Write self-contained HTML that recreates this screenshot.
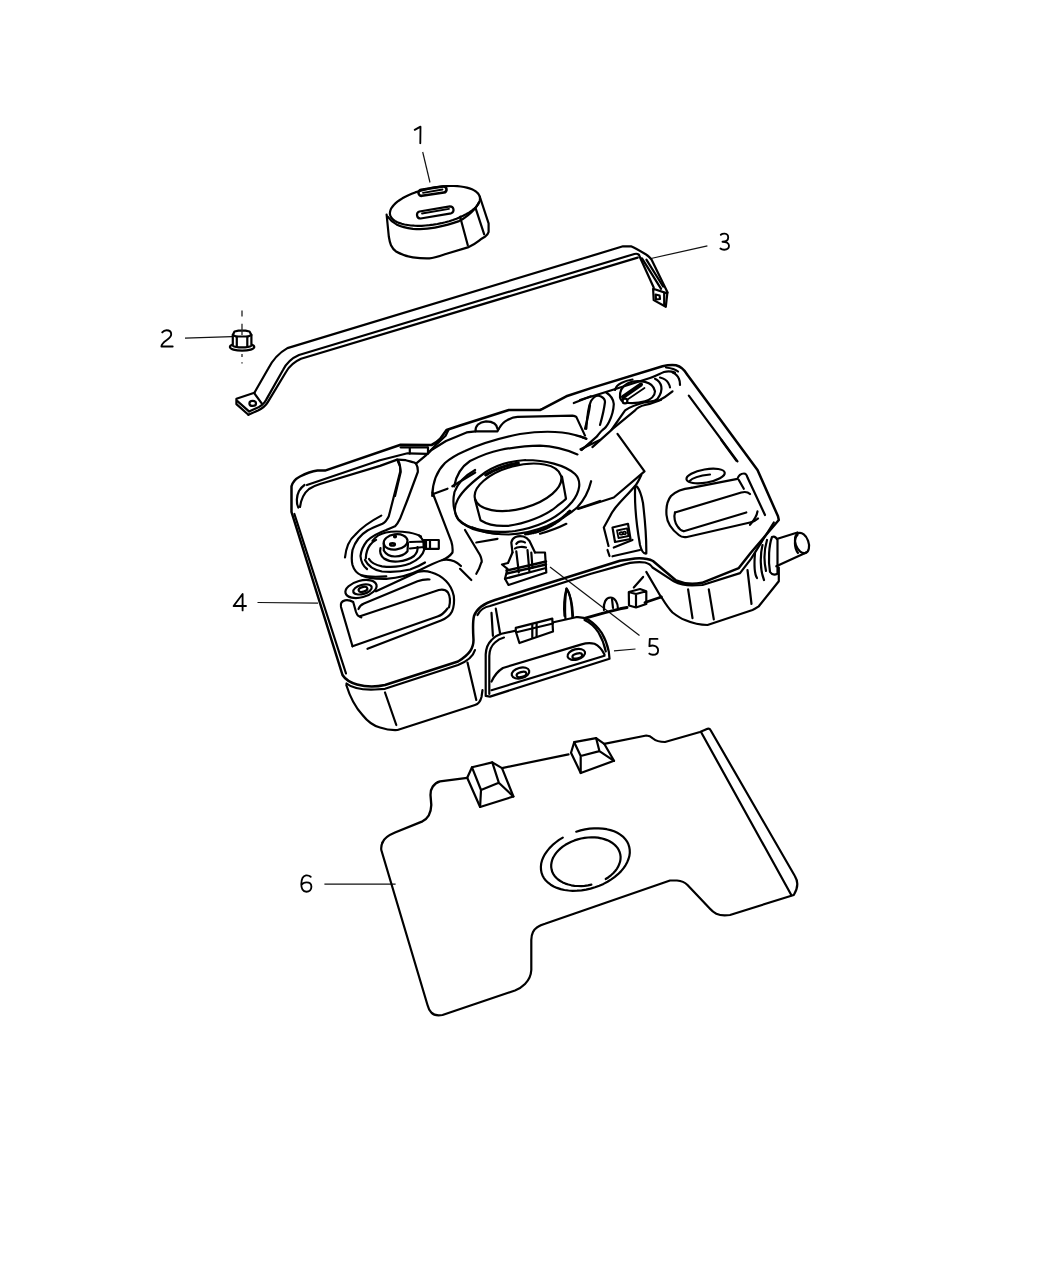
<!DOCTYPE html>
<html><head><meta charset="utf-8"><title>Fuel Tank Diagram</title>
<style>
html,body{margin:0;padding:0;background:#fff;}
body{width:1048px;height:1275px;overflow:hidden;}
svg{display:block;}
.t{font-family:"Liberation Sans",sans-serif;font-size:25px;fill:#111;}
.s{fill:none;stroke:#000;stroke-width:2.2;stroke-linecap:round;stroke-linejoin:round;}
.w{fill:#fff;stroke:#000;stroke-width:2.2;stroke-linecap:round;stroke-linejoin:round;}
.l{fill:none;stroke:#111;stroke-width:1.2;stroke-linecap:butt;}
.th{fill:none;stroke:#000;stroke-width:1.8;stroke-linecap:round;stroke-linejoin:round;}
</style></head>
<body>
<svg width="1048" height="1275" viewBox="0 0 1048 1275">
<!-- LABELS -->
<g id="labels" fill="none" stroke="#000" stroke-width="1.85" stroke-linecap="round" stroke-linejoin="round">
<path d="M414.7,129.9 L420.5,126.6 L420.3,143.2"/>
<path d="M162.2,332.4 C163.5,330.8 165,330.2 166.5,330.2 C169.5,330.2 171.2,332 171.2,334.2 C171.2,336.5 169.5,338.2 166.5,340.2 C163.5,342.3 161.5,344 161.4,346.5 L172.7,346.5"/>
<path d="M720.8,234.8 C722,233.7 723.5,233.5 724.8,233.6 C727,233.8 728.2,235.5 728.2,237.5 C728.2,240 726,241.6 722.5,241.7 C726.5,241.7 729,243.5 729,245.8 C729,248.3 727,249.7 724.2,249.7 C722.5,249.7 721.2,249.2 720.4,248.5"/>
<path d="M242.6,610.4 L242.6,594 L233.6,606 L246,606"/>
<path d="M657.5,638.9 L649.8,638.9 L649.4,646.2 C651,645.5 653,645.3 654.5,645.8 C657,646.6 658.1,648.5 658.1,650.4 C658.1,652.9 656,654.7 652.8,654.7 C651.2,654.7 650,654.3 649.3,653.6"/>
<path d="M310.7,876.8 C309.2,875.5 307.5,875.2 306,875.4 C302.8,876 301.4,879.5 301.3,884 C301.2,888.5 302.8,891.7 306.4,891.7 C309.5,891.7 311.4,889.5 311.4,886.8 C311.4,884 309.5,882.4 306.6,882.4 C304.4,882.4 302.6,883.3 301.6,884.8"/>
</g>
<!-- LEADERS -->
<g id="leaders">
<path class="l" d="M422.7,152 L430,182.5"/>
<path class="l" d="M185,338.1 L232,336.6"/>
<path class="l" d="M651,258.5 L707.4,245.8"/>
<path class="l" d="M257.5,602.5 L318,603.1"/>
<path class="l" d="M614,650.9 L635.5,649"/>
<path class="l" d="M550,566.9 L639.5,635.6"/>
<path class="l" d="M324.4,884.1 L395.6,884.1"/>
</g>
<!-- PART 1 CAP -->
<g id="cap">
<path class="s" d="M386.6,214.5 L388.8,236.5 C389.5,241 390,243 391,245.2 C392.5,248.5 394,250 396.5,251.8 C402,255 407,256.5 412.9,257.3 C418,258.1 424,258.6 429.4,258.4 C435,258 440,256 445.8,254 L467.8,247.4 C472,245.5 475.5,243.5 478.8,240.8 C481,239 483,237.8 485.3,236.5 C487,235 488.3,233.5 488.6,232.1 L488.6,223.3 L479.9,197"/>
<path class="s" d="M479.9,197.2 L480.0,198.8 L479.8,200.5 L479.2,202.2 L478.3,204.0 L477.1,205.7 L475.5,207.5 L473.6,209.2 L471.4,211.0 L468.9,212.6 L466.1,214.3 L463.1,215.8 L459.9,217.3 L456.5,218.7 L452.9,220.0 L449.2,221.2 L445.3,222.3 L441.4,223.2 L437.4,224.0 L433.4,224.7 L429.5,225.2 L425.5,225.5 L421.7,225.8 L417.9,225.8 L414.3,225.7 L410.8,225.5 L407.6,225.0 L404.5,224.5 L401.7,223.8 L399.1,222.9 L396.9,222.0 L394.9,220.9 L393.2,219.6 L391.9,218.3 L390.9,216.9 L390.2,215.4 L389.9,213.8 L390.0,212.1 L390.4,210.4 L391.1,208.7 L392.2,207.0 L393.6,205.2 L395.4,203.4 L397.4,201.7 L399.8,200.0 L402.4,198.3 L405.3,196.7 L408.4,195.2 L411.7,193.8 L415.2,192.4 L418.9,191.2 L422.7,190.1 L426.6,189.1 L430.5,188.2 L434.5,187.4 L438.5,186.9 L442.4,186.4 L446.3,186.1 L450.1,186.0 L453.8,186.0 L457.4,186.2 L460.7,186.5 L463.9,187.0 L466.8,187.6 L469.5,188.4 L472.0,189.3 L474.1,190.4 L475.9,191.5 L477.4,192.8 L478.6,194.2 L479.4,195.7 L479.9,197.2 Z"/>
<path class="s" d="M387.7,216.7 C390,220 393,222.5 396.5,224.4 C401,226.5 407,228 412.9,228.8 C420,229.5 428,229 434.9,227.7 C443,226 451,224 459,221.1 C465,218 471,213 475.5,207.9 C477,206 478,204 478.8,202.4"/>
<path class="s" d="M460.1,216.7 L467.8,245.2 M475.5,207.9 L484.2,234.3"/>
<path class="s" d="M421.9,195.8 L443.9,192.5 A3.0,3.0 0 0 0 443.1,186.5 L421.1,189.8 A3.0,3.0 0 0 0 421.9,195.8 Z" style="stroke-width:2.6"/>
<path class="s" d="M420.6,218.5 L451.1,213.3 A3.6,3.6 0 0 0 449.9,206.3 L419.4,211.5 A3.6,3.6 0 0 0 420.6,218.5 Z"/>
<path class="th" d="M422,213.5 L449,208.8"/>
<path class="th" d="M423,192.8 L442.5,189.5"/>
</g>
<!-- PART 2 NUT -->
<g id="nut">
<path d="M242,310.4 L242,316.4 M242,353.9 L242,356.9 M242,362.2 L242,363.4" fill="none" stroke="#222" stroke-width="1.3"/>
<ellipse class="s" cx="242.1" cy="347" rx="12.2" ry="3.7"/>
<path class="w" d="M232.8,335 L232.8,345.6 C236,348 248,348 251.4,345.6 L251.4,335 L249.5,331.5 L245.5,330.6 L238.5,330.6 L234.5,331.5 Z"/>
<path class="s" d="M232.8,335 L236,336.5 L248,336.5 L251.4,335"/>
<path class="s" d="M236.8,336.5 L236.8,346.8 M247.3,336.5 L247.3,346.8"/>
<path d="M242,323.8 L242,335" fill="none" stroke="#222" stroke-width="1.3"/>
</g>
<!-- PART 3 STRAP -->
<g id="strap">
<path class="s" d="M254.4,392.7 L268,369 C272,361 277,354 287.4,348.1 L623,246.3 L631,246.3 C636,248.5 641,251.5 646.4,254.7 C648.5,256 650,257.5 651.5,259.5 L667.6,292.6"/>
<path class="s" d="M249,411.4 L255.1,408.7 C261,406.5 264.5,403 266.4,399.4 L283,370 C287,362 292,358 299,355 L634.4,254 C636,253.6 637.5,253.7 638.4,254.4 C639,255 639.5,255.8 639.7,256.7 L653.7,287.5"/>
<path class="s" d="M248.4,414.8 L258,410.5 C263,408 265.5,406 267.8,402.1 L286,372 C290,365 295,361.5 301,358.8 L637.7,257.6"/>
<path class="s" d="M642,258.3 L661.1,288.8 M646.4,259.6 L663.1,286.5"/>
<path class="s" d="M254.4,392.7 L236.4,398.7 L236.4,404.1 L248.4,414.8"/>
<path class="s" d="M237.4,401.2 L249,411.4 M254.4,393.4 L261.7,403.4"/>
<ellipse class="s" cx="252.7" cy="403.4" rx="3.3" ry="2.5"/>
<path class="s" d="M653.1,288.8 L653.7,300.1 L665.8,306.8 L667.3,293.4 Z"/>
<path class="s" d="M664.2,293.6 L664.2,304.3"/>
<path class="s" d="M655.6,294.5 L659.6,295.5 L660,299 L656,299.5 Z"/>
</g>
<!-- TANK -->
<g id="tank">
<!-- outer silhouette / rim top line -->
<path class="s" style="stroke-width:2.5" d="M342.5,675 L291.5,512 L291.5,486.3 C293,481 296,478.5 300,476.5 C305,474 311,471.5 317.5,470.6 L325,470.6 L400.6,444.7 L431.5,445 C435,443.5 438,441 440,439 L446.5,430 L460,425.5 L508.8,410 L540,410 L542.5,408.8 L566.3,396.3 L591,388.1 L662.5,366.3 C668,365 672,364.8 676,365.3 C680,366.3 684,369 687.5,375 L757.5,470 L778,516.3 L778.8,520 L751,552.5 L738.8,568.1 L702,582.8 C694,584.5 684,584 676,580.5 L653,561 C648,558.5 642,558 635,558.5 L620,560.8 L495,600 C485,603 477,608 474,616 C472.5,622 473,632 473.5,640 C473.5,648 470,654 458,661.5 L385,685 C376,687 366,687 357,684.5 C350,682.5 345,679 342.5,675 Z"/>
<!-- left double line -->
<path class="s" d="M294.4,514 L346,673.5"/>
<!-- second rim line -->
<path class="s" d="M477.5,615 C480,610 484,607 490,606 L591,573.8 L620,565.6 C628,563 637,561.5 645,562.5 C649,563.5 651,565 652.5,567.5 L673.8,581.3 C680,584.5 686,585.5 692,585.5 L702.5,585 L740,573.1 L751,558.8 L773.8,522.5"/>
<path class="s" d="M346.5,683.5 C352,688 362,690 375,689.5 L385,688.8 L458,665 C468,661 473,657 475,650"/>
<!-- lower body left -->
<path class="s" d="M346.3,685 C350,697 356,708 362.5,715 C368,722 374,726 380,727.5 C386,729.5 392,730.3 397.5,730 L475,705 C478.5,704 480.5,701 481.5,697 L482.5,690"/>
<path class="s" d="M385,692.5 L396.3,725 M467.5,662.5 L476.3,700"/>
<!-- lower body right -->
<path class="s" style="stroke-width:2.9" d="M580,619.6 L605,612.6 L620,608.8 L627,607.5 M645,602.5 L661.3,597"/>
<path class="s" d="M661.3,597 C665,603 668,608 672.5,612.5 C677,616 681,618.5 685,620 C692,623 700,625 707.5,625 L718.8,621.3 L752.5,610 C755,609 757,607.5 758.8,606.3 L778.8,581.3 L778.8,567.5"/>
<path class="s" d="M646.3,571.9 L661.3,597.5"/>
<path class="s" d="M688.1,589.4 L692.5,618.1 M708.8,589.4 L713.8,619.4 M747.5,570 L751.5,604"/>
<!-- right inner edge -->
<path class="s" d="M688.8,395.6 L737.5,461.3"/>
<!-- nozzle -->
<path class="s" d="M777.5,538.8 L797.5,532.5 M776.3,566.3 L806.3,552.5"/>
<ellipse class="s" cx="802" cy="543" rx="6.5" ry="10.5" transform="rotate(-20 802 543)"/>
<path class="s" d="M797.5,535 C794,538 794,548 798,553"/>
<path class="s" d="M772,537 C769,545 768,560 770,572 C772,575 775,575 777.5,573.8 L777.5,540 C776,537 774,536 772,537 Z"/>
<path class="s" d="M767,540 C764,550 764,562 766,571 M762.5,545 C760,555 760,570 764,580"/>
<path class="s" d="M755,553 C754,565 755,575 757,578"/>
<!-- right pocket -->
<ellipse class="s" cx="705.6" cy="476" rx="19.4" ry="6.6" transform="rotate(-10 705.6 476)"/>
<path class="s" d="M689,481.5 C692,478 700,475.5 710,474.5"/>
<path class="s" d="M691.3,487.8 C684,488.5 676,491 671,496 C667,501 666,508 666.5,515 C667,522 671,529 678.8,535 C681,537 684,537.5 687,537 L750,522.5 C753,521.8 756,520.5 758,518.5"/>
<path class="s" d="M691.3,487.8 L737.5,478.8 C738.5,475.5 741,473.5 744,473.5 C746,473.5 747,475.5 747.5,477.5 L765,515"/>
<path class="s" d="M738.8,480 L743.8,488.8"/>
<path class="s" d="M675,512.5 L741.3,492.5 C745,491.5 748,492 750,494"/>
<path class="s" d="M675,512.5 C673.5,517 675,523 677.5,526.3 C679,529 681,530.5 683.8,531.3 L746.3,512.5"/>
<path class="s" d="M757.5,511.3 C757,515 755.5,518.5 750,524.8"/>
<path class="s" d="M721.3,440 L736.3,460.6"/>
<!-- filler area -->
<path class="s" d="M580,400 C600,394 625,386 650,378 C656,376 660,373.5 664,372 C668,371 672,371.5 675,372.5"/>
<path class="s" d="M666,367.5 C670,368 675,369 678,371.5"/>
<path class="s" d="M620,397.5 C619.5,392 622,386.5 627.5,383.5 C632,381.2 639,380.8 645,381.9 C650,383 654,386.5 655,391.3 C655,395.5 651,399.5 645,401.3 C639,403 631,403.5 625,402.5 C622.5,401.5 620.5,399.8 620,397.5 Z"/>
<path class="s" d="M615,390 C616,386 618,384.5 621.3,383 C625,381 629,380 632.5,379.5"/>
<path class="s" d="M655,378.8 C658.5,380.5 660.5,383 661.3,386.5 C662,390 661,394 657.5,398.8 C656,400 654.5,401 652.5,401.3"/>
<path class="s" d="M660,377.5 C664,378.5 666.5,380 668,382.5 C669.5,385 670,386.5 670,387.5"/>
<path class="s" d="M672.5,372.5 C676,374 678,376 679,379 C680,381 680,383 680,385"/>
<path class="s" d="M672.5,391.3 C668,395 664,398 658,401 C653,403 649,404.3 645,405 C640,406 637,408 635.1,410.4 L611.7,429.7"/>
<path class="s" d="M661,400 C656,401 650,401.5 645,402.3 C636,404.5 630,407 625.1,410.4 L611.1,430.4 L592.4,447.1"/>
<path class="th" d="M623,397 L641,384.5" style="stroke-width:4"/>
<path class="th" d="M627.5,399.5 L644.5,388"/>
<circle class="s" cx="625" cy="401" r="2.4" style="fill:#fff"/>
<path class="s" d="M586.3,428.8 C587,418 588.5,406 591,401 C594,396 598,395 601,396.5 C604,398 605,400 605,402 C604,410 602,418 600,425"/>
<path class="s" d="M606.3,392.5 C610,395 613.5,399 613.8,404 C613.5,412 611,418 609,422 C607,426 605,428.5 602.5,430 C600,432 598.5,434.5 597,436.4 L581.7,449.8"/>
<path class="s" d="M580,436.3 L586.3,438.8"/>
<!-- center block -->
<path class="s" d="M617.5,433.8 L644.5,471.3 L613.8,497.5 L578.8,508.8"/>
<path class="s" d="M641.3,475 C639,480 637,484 635,486 C630,492 624,498 618.8,503.8 C615,508 612,512 610,516.3 L603.8,527.5 L608.5,546"/>
<path class="s" d="M607.5,550 L609.5,556"/>
<path class="s" d="M635.2,486.5 C634.5,500 636.5,525 640,545 C641.5,551 644,554 646.3,553.5 C646.5,540 645,520 643,503 C641.5,495 639,489 637,486.5 Z"/>
<path class="s" d="M612.5,527.5 L628,523.8 L630.5,539 L615,542 Z"/>
<path class="th" d="M617,530.5 L627,528.3 L628.5,536 L618.5,538 Z"/>
<path class="th" d="M619.5,533.5 C619.5,531.8 622.5,531.5 622.8,533.3 C623,535 620,535.3 619.5,533.5 Z M622.8,533 C622.8,531.3 625.8,531 626,532.8 C626.2,534.5 623.2,534.8 622.8,533 Z"/>
<path class="s" d="M613.8,547.5 L632.5,540 M612.5,556.3 L640,550"/>
<!-- small cube and pill near bottom rim -->
<path class="s" d="M628.8,592 L640,589 L646.3,591.3 L646.3,604 L636,607.5 L629,605.5 Z M628.8,592 L636,594 L646.3,591.3 M636,594 L636,607.5"/>
<path class="s" d="M633.8,587.5 L643.1,576.9"/>
<path class="s" d="M604,610 C603,603 606,597.5 610.5,597.5 C615,597.5 618,603 618,609"/>
<path class="s" d="M612,599 L613,608"/>
<path class="s" d="M565.5,620 C564.5,607 565.5,595 566.5,588.5 C569.5,592 572,603 572.5,620"/>
<!-- left rim inner lines -->
<path class="s" d="M306.9,485 L380,460.2 L407.5,453.3 L427.5,453.9"/>
<path class="s" d="M298.3,507.5 C296,503 296.5,496 299,491 C301,488 303,486 304.5,485"/>
<path class="s" d="M300,507 C301,500 304,493 309,489 C312,487 315,485.5 320,484 L380,465.9 L397.2,459.6 C399.5,462 400.5,466 400.3,471.3 L388.8,516.3 C387,520 385,522.5 382.5,523.8 C377,526 372,528 367.5,530.5 C360,535 355,542 352.5,550 C351.5,556 351.5,561 352.5,565 C354,570 357,573.5 361.3,575.3 C368,577 377,577 386.3,576.3"/>
<path class="s" d="M400.6,447.3 L427.5,447.3 M409.8,447.3 L409.8,453.6 M428,447.3 L428,452.5"/>
<path class="s" d="M397.2,459.6 C400,459.5 403,459.8 405.8,460.2 C409,461 412,462 414.3,462.5 L416,463.6 C417.5,466 418,469 417.8,472 L407.4,500 L400,518.8 C398,523 396.5,525 395,526.3 C391,528 388,529 386.3,530 C378,533 371,537 367,541 C363,546 361,551 360.5,556 C361,562 363,566 367,569"/>
<path class="s" d="M397.9,461.5 C400,465 400.7,468 400.7,472 L395,496"/>
<path class="s" d="M427.5,453.9 L431.5,450 L446,441 L466.6,432.4 L475.6,431.3 L497.5,431.3 L498.8,428.8"/>
<path class="s" d="M416,463.6 L426.5,454.8 L437.2,443.6 L445.6,435.8 L448.4,430"/>
<!-- bump -->
<path class="s" d="M475.6,431.3 C475,426 479,422 486,421.3 C493,421.3 497,424 497.5,429"/>
<!-- second rim line right of bump -->
<path class="s" d="M498.8,428.8 C501,425 504,421.5 507.5,420 C511,418 514,417 517.5,416.9 L572.5,415.6 C574.5,415.8 575.5,416.3 576.3,416.9 L585,435.6"/>
<!-- arcs around center -->
<path class="s" d="M432.2,495.9 C432.5,485 436,472 445,463 C452,457 458,454 465,451 C480,444 500,438 520,434 C540,431 560,431 575,435 C580,436.5 584,437.5 586.3,438.8"/>
<path class="s" d="M454.2,486.3 C456,476 461,467 470,461 C480,456 490,452 500,450 C515,447 528,445.6 540,445.6 C553,446 565,449 577.5,454.4"/>
<path class="s" d="M452.3,486.3 L475.2,472.5"/>
<path class="s" d="M433.2,494 L447.5,488.7"/>
<path class="s" d="M573.8,403.1 L591,396.3"/>
<path class="s" d="M590,405 C589,413 587,421 585,428.8"/>
<path class="s" d="M581.3,450 L591,442.5"/>
<!-- cylinder -->
<ellipse class="s" cx="518" cy="487.3" rx="44.5" ry="21.5" transform="rotate(-15 518 487.3)"/>
<path class="s" d="M475,499.5 L480.5,520.2 C488,525 497,526.5 508,525.8 C525,524 545,516 556,507 C561,503 564,501 566,498.8 L562,476.6"/>
<!-- inner ring -->
<path class="s" d="M525.5,460 C545,460 565,465 575,474 C582,481 580,492 572,502 C560,516 540,527 515,531 C495,533.5 475,531 462,523 C454,517 453,508 458,499 C463,490 472,482 485.8,472 C495,466 510,461 525.5,460"/>
<path class="s" d="M485.8,475 C495,469 507,465 519.4,463" style="stroke-width:3.2;stroke-dasharray:1.2 1.2"/>
<path class="s" d="M525.5,534 C545,532 560,521 569.8,511" style="stroke-width:3;stroke-dasharray:1.2 1.2"/>
<!-- outer ring -->
<path class="s" d="M475.1,470 C468,474 458,482 454.5,492 C452,503 454,512 458.3,519.4 C465,526 472,529 478,530.5 C490,533.5 500,534.5 508.7,534.5 C522,534 535,531 546.9,526 C560,520 570,514 577.4,507.2 C584,500 589,490 591.1,481.2"/>
<path class="s" d="M577.4,508.7 L600,501"/>
<path class="s" d="M580.5,449.2 L600,440"/>
<path class="s" d="M472.5,527.5 C480,531 490,533.5 497.5,533.8 M540,533.8 C550,531 560,527 566.3,523.8"/>
<!-- center block left line -->
<path class="s" d="M432.5,492.5 L451.3,541.3 C452.5,545 452.8,549 452.5,552.5 C450,556 446,558.5 442.5,560"/>
<path class="s" d="M465,530 L480,555 C482,559 482,563 481.3,562.5 C480,567 478,571 476.3,573.8"/>
<path class="s" d="M460,568.8 L471.3,580"/>
<path class="s" d="M476.3,542.5 L497.5,538.8"/>
<!-- sender unit -->
<ellipse class="s" cx="395.6" cy="541.9" rx="12" ry="7.6" transform="rotate(-8 395.6 541.9)"/>
<circle class="s" cx="395" cy="536.5" r="1" />
<ellipse class="s" cx="392.5" cy="544.4" rx="2.5" ry="1.2"/>
<path class="s" d="M383.8,543.5 L383.8,550.5 C386,554.5 390,556.5 395,556.5 C400,556.5 405,554.5 407.5,551.3 L408,543"/>
<path class="s" d="M380.5,548 C379.5,552 381,556 384,558.5 C388,561 393,562 398,561.5 C404,561 410,559 414,556 C417,553 418,550 417.5,547"/>
<path class="s" d="M419,535.5 C423,539 425,544 424.5,549 C423,555 418,560 410,563.5 C402,566.5 392,567.5 382,566.3 C375,565 371,562.5 369,559"/>
<path class="s" d="M372.5,541 C376,536 381,533.5 386,532.5 C393,531 402,531.5 409,532.5 C414,533.5 418,534.5 421,536.5"/>
<path class="s" d="M365.8,558.5 C366,552 368,547.6 370,545 C372,542.5 374,541 376.1,539.9"/>
<path class="s" d="M410,542 L423.8,541.5 L423.8,547 L410,548.5"/>
<path class="s" d="M423.8,540 L438.8,540 L438.8,548.8 L423.8,548.8 Z M430,540 L430,548.8 M426,540 L426,548.8"/>
<path class="s" d="M345,557.5 C346,548 349,540 355,535 C361,528 371,521 381.3,515.6"/>
<path class="s" d="M361.3,575.3 C366,578 374,579 386.3,578.8 C398,578 410,575 420,570 C428,566 436,562 442.5,560 C448,559 455,560 461,566"/>
<path class="s" d="M365,560 C368,566 374,570 382,571.5 C392,572.5 402,571.5 410,569.5 C416,567.5 421,565 425,562.5"/>
<!-- small circle -->
<ellipse class="s" cx="361" cy="589" rx="16" ry="8.3" transform="rotate(-15 361 589)"/>
<ellipse class="s" cx="362.5" cy="589.4" rx="9.5" ry="4.6" transform="rotate(-15 362.5 589.4)"/>
<ellipse class="s" cx="363" cy="589.4" rx="4.5" ry="2.3" transform="rotate(-15 363 589.4)"/>
<!-- left pocket -->
<path class="s" d="M352.5,646.3 L341,607 C340.3,603.5 341.5,601 345,600.3 C348,599.8 351,600.6 353.2,602 L356,612 C357,615 358.5,616.8 361.3,617.3"/>
<path class="s" d="M376,591.3 L417.5,571.9 C422,570.8 427,570.8 431,572.3 C437,574 442,577 446,581 C450,585 452.5,590 453.8,596 C454.5,602 454,607 452,611.5 C450,615.5 446,618.5 441,620.5 L367.5,648.8"/>
<path class="s" d="M352.5,646.3 L437.5,616.5 C442,615 445,612 447.5,608.5"/>
<path class="s" d="M358.5,609 C359.5,606 361.5,604.5 364,603.5 L417.5,581.3 C421,580 425,579.3 429.5,579.5"/>
<path class="s" d="M360,616.3 L438.8,590 C443,589 446,590 448,592.5 C450,596 450.5,602 449,607.5"/>
<!-- clip in tank -->
<path class="s" d="M512.5,552.5 L511.3,542.5 C512,539.5 513.5,537.8 515.5,537 C518,536 521,536 523.5,536.5 C526,537.3 528,539 529.5,541 L535,552.5"/>
<path class="s" d="M516.3,543.8 C517.5,542 519,541.3 521,541.3 C523,541.3 524.5,542 525,542.5"/>
<path class="s" d="M515,548.5 C517,546.8 523,546.5 526,547.5 M516.3,551.3 L518.8,572.5 M527.5,550 L529.4,571.3"/>
<path class="s" d="M512.5,552.5 L508,563 L502,564.5 L507.5,568.8 L505,578.8 L508.5,585 L546.3,572.5 L545,552.5 L535,552.5"/>
<path class="s" d="M531.3,552.5 L532.5,568"/>
<path class="th" d="M506.5,570.5 L546,561.5 M507,573.5 L546,564.5" style="stroke-width:2.4"/>
<path class="s" d="M505,578.8 L546,568"/>
</g>
<!-- PART 5 BRACKET -->
<g id="bracket">
<path class="w" d="M485.7,695.9 L485.7,654.4 C486,648 488,643.5 491.5,640.1 C494,637 497.5,635 501.5,633.7 L575.9,617.2 C580.5,616.8 585,617.8 588.8,620 C594,623.5 598.5,628 601.7,632.9 C605,638.5 607.5,645 608.8,651.5 L609.5,658.7 L490,696.6 Z"/>
<path class="s" d="M489.3,694 L489.3,656 C489.5,650 491.5,645.5 495,642.5 C497.5,640 500.5,638.3 504,637.5"/>
<path class="s" d="M584.5,620 C590,622.5 595,627 598.5,632.5 C602,638.5 604.5,645 605.8,651.5"/>
<path class="s" d="M491.5,690.2 L604.5,655.8"/>
<path class="s" d="M491.5,681.6 C494,676 498,671 502.9,668 L581.6,644.4 C586,643 590.5,642.8 594.5,643.7 C598.5,645.5 602,649.5 604.5,654.4"/>
<ellipse class="s" cx="520.5" cy="673" rx="9" ry="5.2" transform="rotate(-15 520.5 673)"/>
<ellipse class="s" cx="521.5" cy="674.5" rx="5" ry="2.4" transform="rotate(-15 521.5 674.5)"/>
<ellipse class="s" cx="576.3" cy="654.4" rx="9" ry="5.2" transform="rotate(-15 576.3 654.4)"/>
<ellipse class="s" cx="577.3" cy="655.9" rx="5" ry="2.4" transform="rotate(-15 577.3 655.9)"/>
<path class="w" d="M515.8,627.9 L552.3,618.6 L553,631.5 L519.4,643 L515.8,631.5 Z"/>
<path class="s" d="M517.5,632 L553,623.5"/>
<path class="s" d="M532.3,624.5 L532.3,637.5 M536.6,623.5 L536.6,636.5"/>
<path class="s" d="M491.5,612.9 L492.9,635.8 M495.8,608.6 L500,633"/>
<path class="s" d="M564.5,615.8 C563.5,605 564.5,596 566.5,588.5 C570,594 572.5,604 573,616"/>
</g>
<!-- TRAY -->
<g id="tray">
<path class="s" style="stroke-width:2.35" d="M382.5,842.5 C384,838 389,835 395,832.5 L422.5,821.3 C428,818.5 431,813 431.3,805 L430.5,795 C430,789 434,783 440,781.3 L467.2,777.8"/>
<path class="s" d="M502,768.1 L568.5,754.3 M604.2,743.8 L646.3,735.5 C649,735.5 651,736.5 653,738.5 C656,741 660,742 665,742 L700,732 L707.5,728.8 C709,728.5 710,729 710.5,730 L795,876.3 C798,881 798,888 793.8,895 L730,915 C724,916 720,915.5 716.3,913.8 C713,912 711.5,910.5 710,908.8 L687.5,885 C685,882.5 682,881 677,880.5 L670,880.5 L545,923.8 C539,925.5 535,928 533,932 C531.5,935 531.3,938 531.3,940 L531.3,970 C531,976 529,980 525,984 C522,987 519,989 515,990.5 L442.5,1015 C437,1016 433,1014.5 431.3,1012.5 C429,1010 428,1007 427.5,1005 L381.3,850 C381,847 381.5,844.5 382.5,842.5"/>
<path class="s" d="M701.3,732.5 L791.3,895"/>
<!-- cube 1 -->
<path class="s" d="M467.2,777.8 L472,767.3 L492.3,762.4 L502,768.1 L513.4,796.5 L480.1,807 Z"/>
<path class="s" d="M472,767.3 L481,790 L498.8,782.7 L492.3,762.4 M481,790 L480.1,807 M498.8,782.7 L513.4,796.5"/>
<!-- cube 2 -->
<path class="s" d="M571,752.7 L574.2,742.2 L596.1,738.1 L604.2,743.8 L614,760.8 L580.7,773 Z"/>
<path class="s" d="M574.2,742.2 L580.7,756 L599.4,751.1 L596.1,738.1 M580.7,756 L580.7,773 M599.4,751.1 L614,760.8"/>
<!-- hole -->
<path class="s" d="M576.2,831.7 L580.6,830.4 L585.1,829.4 L589.6,828.7 L594.0,828.4 L598.4,828.4 L602.6,828.6 L606.7,829.2 L610.5,830.1 L614.1,831.3 L617.3,832.8 L620.3,834.6 L622.9,836.6 L625.1,838.9 L626.9,841.3 L628.3,844.0 L629.2,846.8 L629.7,849.7 L629.8,852.8 L629.4,855.9 L628.5,859.0 L627.2,862.2 L625.5,865.3 L623.4,868.4 L620.9,871.4 L618.0,874.2 L614.8,876.9 L611.3,879.4 L607.5,881.8 L603.5,883.9 L599.3,885.7 L595.0,887.3 L590.5,888.6 L586.1,889.6 L581.6,890.3 L577.1,890.7 L572.7,890.8 L568.5,890.5 L564.4,890.0 L560.6,889.1 L557.0,887.9 L553.7,886.5 L550.7,884.7 L548.1,882.7 L545.8,880.5 L543.9,878.1 L542.5,875.4 L541.5,872.6 L541.0,869.7 L540.9,866.7 L541.2,863.6 L542.0,860.4 L543.3,857.3 L545.0,854.1 L547.1,851.1 L549.5,848.1 L552.4,845.2 L555.6,842.5 L559.0,839.9 L562.8,837.6"/>
<path class="s" d="M591.4,884.7 L588.0,885.4 L584.6,885.9 L581.2,886.1 L577.8,886.0 L574.5,885.8 L571.3,885.3 L568.3,884.5 L565.4,883.6 L562.7,882.4 L560.3,881.0 L558.1,879.5 L556.2,877.7 L554.6,875.9 L553.2,873.8 L552.2,871.7 L551.6,869.4 L551.2,867.1 L551.2,864.7 L551.6,862.3 L552.2,859.9 L553.2,857.5 L554.6,855.2 L556.2,852.9 L558.1,850.7 L560.3,848.6 L562.7,846.6 L565.4,844.8 L568.3,843.2 L571.3,841.7 L574.5,840.4 L577.8,839.4 L581.1,838.5 L584.6,837.9 L588.0,837.5 L591.4,837.3 L594.8,837.4 L598.0,837.7 L601.2,838.3 L604.2,839.1 L607.0,840.1 L609.6,841.3 L612.0,842.7 L614.1,844.3 L616.0,846.1 L617.6,848.0 L618.8,850.1 L619.7,852.2 L620.3,854.5 L620.6,856.8 L620.5,859.2 L620.1,861.6 L619.3,864.0 L618.3,866.4 L616.9,868.8 L615.2,871.0 L613.2,873.2 L610.9,875.3 L608.5,877.2 L605.7,879.0"/>
</g>
</svg>
</body></html>
